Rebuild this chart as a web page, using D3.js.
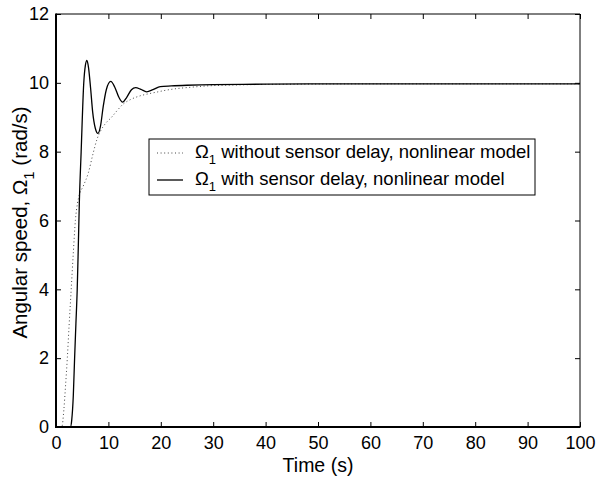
<!DOCTYPE html>
<html>
<head>
<meta charset="utf-8">
<script src="https://cdn.jsdelivr.net/npm/d3@7"></script>
<style>
  html, body { margin: 0; padding: 0; background: #fff; }
  svg { display: block; font-family: "Liberation Sans", Arial, Helvetica, sans-serif; }
</style>
</head>
<body>
<svg id="chart" width="606" height="477"></svg>
<script>
// ---- data ----
const xTicks = [0, 10, 20, 30, 40, 50, 60, 70, 80, 90, 100];
const yTicks = [0, 2, 4, 6, 8, 10, 12];

// Omega_1 without sensor delay (dotted)
const tNoDelay = [0, 1.1, 1.5, 1.8, 2.16, 2.5, 2.9, 3.3, 3.7, 4.1, 4.45, 5.2, 6.2, 7.0, 7.8, 8.5, 9.35, 10.6, 11.7, 12.8, 14.3, 16.0, 17.6, 19.2, 20.8, 22.4, 25.6, 28.8, 32, 35, 40, 45, 50, 60, 70, 80, 90, 100];
const vNoDelay = [0, 0, 0.5, 1.15, 2.0, 2.95, 4.0, 5.05, 6.0, 6.5, 6.74, 7.0, 7.4, 7.9, 8.35, 8.6, 8.8, 9.0, 9.2, 9.38, 9.52, 9.62, 9.68, 9.73, 9.78, 9.82, 9.87, 9.91, 9.93, 9.94, 9.955, 9.96, 9.965, 9.97, 9.97, 9.97, 9.97, 9.97];

// Omega_1 with sensor delay (solid)
const tDelay = [0, 2.75, 3.0, 3.3, 3.55, 3.8, 4.05, 4.25, 4.45, 4.8, 5.3, 5.6, 5.9, 6.2, 6.6, 7.0, 7.5, 8.0, 8.5, 9.0, 9.6, 10.45, 11.2, 12.0, 12.7, 13.5, 14.4, 15.2, 16.2, 17.3, 18.5, 19.9, 22, 25, 30, 40, 50, 60, 70, 80, 90, 100];
const vDelay = [0, 0, 0.2, 0.9, 2.0, 3.0, 4.0, 5.2, 6.5, 8.0, 10.0, 10.5, 10.65, 10.45, 9.85, 9.15, 8.68, 8.53, 8.75, 9.3, 9.8, 10.04, 9.88, 9.58, 9.44, 9.58, 9.8, 9.86, 9.81, 9.74, 9.8, 9.89, 9.91, 9.93, 9.95, 9.96, 9.97, 9.97, 9.97, 9.97, 9.97, 9.97];

const legendLabels = ["without sensor delay, nonlinear model", "with sensor delay, nonlinear model"];

// ---- layout ----
const svg = d3.select("#chart");
const L = 56, R = 580, T = 14, B = 427;
const x = d3.scaleLinear().domain([0, 100]).range([L, R]);
const y = d3.scaleLinear().domain([0, 12]).range([B, T]);

svg.append("rect").attr("x", L).attr("y", T).attr("width", R - L).attr("height", B - T).attr("fill", "#fff");

svg.append("clipPath").attr("id", "clip").append("rect")
  .attr("x", L).attr("y", T).attr("width", R - L).attr("height", B - T);

const line = d3.line().x(d => x(d[0])).y(d => y(d[1])).curve(d3.curveMonotoneX);
const g = svg.append("g").attr("clip-path", "url(#clip)");

g.append("path")
  .datum(tNoDelay.map((t, i) => [t, vNoDelay[i]]))
  .attr("d", line).attr("fill", "none")
  .attr("stroke", "#444").attr("stroke-width", 1).attr("stroke-dasharray", "1,2.6");

g.append("path")
  .datum(tDelay.map((t, i) => [t, vDelay[i]]))
  .attr("d", line).attr("fill", "none")
  .attr("stroke", "#000").attr("stroke-width", 1.3);

// axes (ticks inward, mirrored)
const fs = 18;
const axB = svg.append("g").attr("transform", `translate(0,${B})`)
  .call(d3.axisBottom(x).tickValues(xTicks).tickSizeInner(-5).tickSizeOuter(0).tickPadding(9).tickFormat(d3.format("d")));
const axT = svg.append("g").attr("transform", `translate(0,${T})`)
  .call(d3.axisTop(x).tickValues(xTicks).tickSizeInner(-5).tickSizeOuter(0).tickFormat(""));
const axL = svg.append("g").attr("transform", `translate(${L},0)`)
  .call(d3.axisLeft(y).tickValues(yTicks).tickSizeInner(-5).tickSizeOuter(0).tickPadding(10).tickFormat(d3.format("d")));
const axR = svg.append("g").attr("transform", `translate(${R},0)`)
  .call(d3.axisRight(y).tickValues(yTicks).tickSizeInner(-5).tickSizeOuter(0).tickFormat(""));

[axB, axT, axL, axR].forEach(a => {
  a.select(".domain").remove();
  a.selectAll(".tick line").attr("stroke", "#000").attr("stroke-width", 1);
  a.selectAll("text").attr("font-size", fs).attr("font-family", "Liberation Sans, Arial, sans-serif").attr("fill", "#000");
});
axB.selectAll("text").attr("dy", "0.71em");
axL.selectAll("text").attr("dx", "3");

// frame
svg.append("line").attr("x1", L).attr("x2", R).attr("y1", T).attr("y2", T).attr("stroke", "#000").attr("stroke-width", 1);
svg.append("line").attr("x1", R).attr("x2", R).attr("y1", T).attr("y2", B).attr("stroke", "#000").attr("stroke-width", 1);
svg.append("line").attr("x1", L).attr("x2", R + 0.5).attr("y1", B).attr("y2", B).attr("stroke", "#000").attr("stroke-width", 2);
svg.append("line").attr("x1", L).attr("x2", L).attr("y1", T - 0.5).attr("y2", B + 1).attr("stroke", "#000").attr("stroke-width", 2);

// axis labels
const lfs = 19.5;
svg.append("text").attr("x", (L + R) / 2).attr("y", 472).attr("text-anchor", "middle")
  .attr("font-size", lfs).text("Time (s)");

const yl = svg.append("text").attr("transform", `translate(27,${(T + B) / 2 + 2}) rotate(-90)`)
  .attr("text-anchor", "middle").attr("font-size", 20.5);
yl.append("tspan").text("Angular speed, Ω");
yl.append("tspan").attr("font-size", 15).attr("dy", 7).text("1");
yl.append("tspan").attr("dy", -7).text(" (rad/s)");

// legend
const lg = svg.append("g");
lg.append("rect").attr("x", 149).attr("y", 139).attr("width", 386).attr("height", 56)
  .attr("fill", "#fff").attr("stroke", "#000").attr("stroke-width", 1);
const rows = [{ y: 153, dash: "1,2.6", col: "#444", w: 1 }, { y: 180, dash: null, col: "#000", w: 1.3 }];
rows.forEach((r, i) => {
  lg.append("line").attr("x1", 157).attr("x2", 183).attr("y1", r.y).attr("y2", r.y)
    .attr("stroke", r.col).attr("stroke-width", r.w).attr("stroke-dasharray", r.dash);
  const t = lg.append("text").attr("x", 195).attr("y", r.y + 5).attr("font-size", 18.5);
  t.append("tspan").text("Ω");
  t.append("tspan").attr("font-size", 13).attr("dy", 6).text("1");
  t.append("tspan").attr("dy", -6).text(" " + legendLabels[i]);
});
</script>
</body>
</html>
